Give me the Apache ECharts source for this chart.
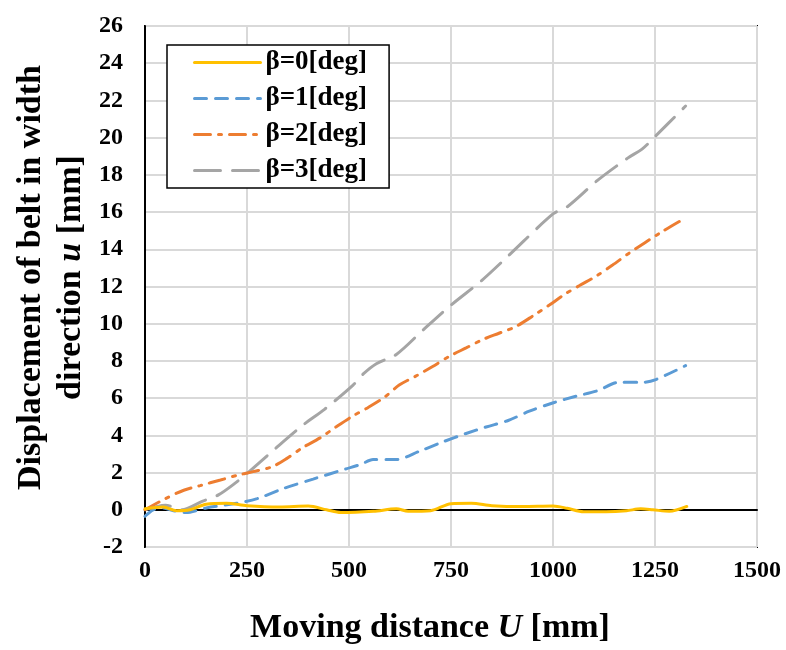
<!DOCTYPE html>
<html><head><meta charset="utf-8">
<script src="https://cdn.jsdelivr.net/npm/echarts@6/dist/echarts.min.js"></script>
<style>html,body{margin:0;padding:0;background:#fff}#c{width:786px;height:650px}</style>
</head><body><div id="c"></div>
<script>
// Moving distance U [mm] and displacement u [mm] for each beta
const seriesNames = ['β=0[deg]', 'β=1[deg]', 'β=2[deg]', 'β=3[deg]'];
const xTicks = [0, 250, 500, 750, 1000, 1250, 1500];

const beta0U = [0,45,77,110,150,200,250,330,400,445,480,560,616,645,700,750,800,850,925,1000,1035,1075,1130,1180,1215,1245,1285,1328];
const beta0u = [0.05,0.15,-0.05,0,0.3,0.35,0.22,0.15,0.2,0,-0.15,-0.08,0.05,-0.08,-0.05,0.33,0.35,0.22,0.17,0.2,0.08,-0.1,-0.1,-0.05,0.05,0,-0.08,0.18];

const beta1U = [0,20,45,70,100,150,225,275,340,412,493,530,559,616,673,730,787,836,890,942,1001,1056,1109,1162,1219,1252,1325];
const beta1u = [-0.35,0,0.1,-0.05,-0.15,0.1,0.35,0.6,1.15,1.65,2.2,2.45,2.7,2.7,3.15,3.65,4.1,4.45,4.8,5.3,5.75,6.1,6.4,6.85,6.85,7.0,7.75];

const beta2U = [0,50,95,135,185,225,265,310,347,387,428,468,510,547,587,623,665,705,746,787,828,869,909,953,991,1030,1065,1109,1146,1187,1264,1322];
const beta2u = [0,0.6,1.05,1.3,1.6,1.85,2.05,2.3,2.75,3.35,3.85,4.45,5.05,5.5,6.05,6.7,7.2,7.7,8.25,8.7,9.15,9.5,9.85,10.45,11.0,11.6,12.05,12.6,13.15,13.8,14.9,15.65];

const beta3U = [0,50,90,140,180,225,250,320,390,440,510,535,567,616,681,750,824,893,1000,1036,1109,1183,1219,1252,1325];
const beta3u = [0,0.25,0,0.45,0.8,1.5,1.95,3.3,4.6,5.4,6.7,7.3,7.85,8.35,9.65,11.0,12.3,13.7,15.9,16.3,17.7,18.9,19.4,20.1,21.7];

const colors = ['#FFC000', '#5B9BD5', '#ED7D31', '#A5A5A5'];
const dashes = ['solid', [12, 9], [16, 8, 3, 8], [26, 12]];
const xs = [beta0U, beta1U, beta2U, beta3U];
const ys = [beta0u, beta1u, beta2u, beta3u];

const FONT = '"Liberation Serif", "Times New Roman", serif';

const series = seriesNames.map((n, i) => ({
  name: n,
  type: 'line',
  symbol: 'none',
  smooth: 0.3,
  z: 10 - i,
  data: xs[i].map((x, k) => [x, ys[i][k]]),
  lineStyle: { color: colors[i], width: 3, type: dashes[i], cap: 'round' },
  itemStyle: { color: colors[i] }
}));
series[0].markLine = {
  silent: true, symbol: 'none', label: { show: false },
  lineStyle: { color: '#000', width: 1.6, type: 'solid' },
  data: [{ yAxis: 0 }],
  z: 1
};

const chart = echarts.init(document.getElementById('c'), null, { renderer: 'canvas' });
chart.setOption({
  animation: false,
  backgroundColor: '#fff',
  grid: { left: 145, right: 29, top: 26, bottom: 99, show: true, borderColor: '#000', borderWidth: 2, backgroundColor: 'transparent' },
  legend: {
    orient: 'vertical', left: 167, top: 45,
    backgroundColor: '#fff', borderColor: '#000', borderWidth: 1.5,
    padding: [4, 22, 4, 26],
    itemWidth: 66, itemHeight: 14, itemGap: 9,
    itemStyle: { opacity: 0 },
    lineStyle: { width: 3 },
    textStyle: { fontFamily: FONT, fontWeight: 'bold', fontSize: 27, color: '#000', lineHeight: 26 },
    data: seriesNames
  },
  xAxis: {
    type: 'value', min: 0, max: 1500, interval: 250,
    axisLine: { show: true, lineStyle: { color: '#000', width: 2 } },
    axisTick: { show: false },
    splitLine: { show: true, lineStyle: { color: '#d9d9d9', width: 2 } },
    axisLabel: { fontFamily: FONT, fontWeight: 'bold', fontSize: 24, color: '#000', margin: 12,
      formatter: v => xTicks.includes(v) ? String(v) : '' },
    name: '{t|Moving distance }{i|U}{t| [mm]}',
    nameLocation: 'middle', nameGap: 64,
    nameTextStyle: { padding: [0, 42, 0, 0], rich: {
      t: { fontFamily: FONT, fontWeight: 'bold', fontSize: 34, color: '#000' },
      i: { fontFamily: FONT, fontWeight: 'bold', fontStyle: 'italic', fontSize: 34, color: '#000' } } }
  },
  yAxis: {
    type: 'value', min: -2, max: 26, interval: 2,
    axisLine: { show: true, lineStyle: { color: '#000', width: 2 } },
    axisTick: { show: false },
    splitLine: { show: true, lineStyle: { color: '#d9d9d9', width: 2 } },
    axisLabel: { fontFamily: FONT, fontWeight: 'bold', fontSize: 24, color: '#000', margin: 22 },
    name: '{t|Displacement of belt in width}\n{t|direction }{i|u}{t| [mm]}',
    nameLocation: 'middle', nameGap: 54, nameRotate: 90,
    nameTextStyle: { padding: [0, 0, 0, 18], rich: {
      t: { fontFamily: FONT, fontWeight: 'bold', fontSize: 34, color: '#000', lineHeight: 40 },
      i: { fontFamily: FONT, fontWeight: 'bold', fontStyle: 'italic', fontSize: 34, color: '#000', lineHeight: 40 } } }
  },
  series: series
});
</script></body></html>
